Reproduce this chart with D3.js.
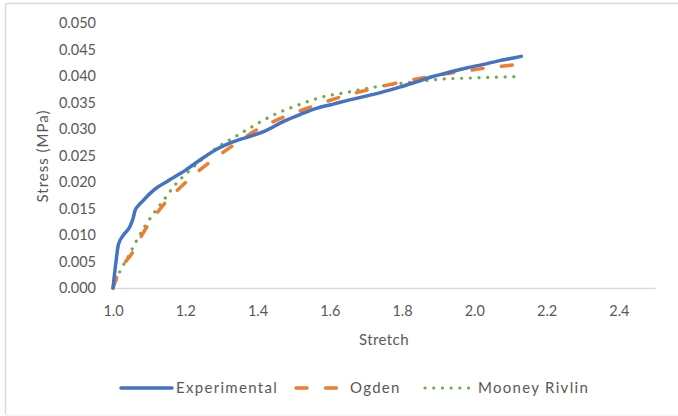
<!DOCTYPE html>
<html>
<head>
	<meta charset="utf-8">
	<title>Stress vs Stretch</title>
	<script src="https://d3js.org/d3.v7.min.js"></script>
	<style>
		body { margin: 0; background: #fff; }
		text { font-family: Lato, 'Open Sans', sans-serif; fill: #595959; }
	</style>
</head>
<body>
<script>
	// stretch / stress (MPa)
	var expStretch = [1.0, 1.008, 1.015, 1.03, 1.047, 1.055, 1.061, 1.075, 1.089, 1.105, 1.125, 1.15, 1.171, 1.2, 1.227, 1.255, 1.282, 1.315, 1.346, 1.38, 1.42, 1.471, 1.52, 1.563, 1.61, 1.655, 1.7, 1.747, 1.793, 1.84, 1.886, 1.93, 1.978, 2.025, 2.07, 2.1, 2.13];
	var expStress  = [0.0, 0.0048, 0.0082, 0.0101, 0.0116, 0.0130, 0.0146, 0.0159, 0.0169, 0.0180, 0.0191, 0.0201, 0.0210, 0.0222, 0.0235, 0.0248, 0.0260, 0.0271, 0.0279, 0.0286, 0.0296, 0.0314, 0.0328, 0.0339, 0.0347, 0.0355, 0.0362, 0.0370, 0.0379, 0.0389, 0.0399, 0.0407, 0.0415, 0.0422, 0.0429, 0.0433, 0.0437];

	var ogdStretch = [1.0, 1.015, 1.052, 1.088, 1.135, 1.199, 1.263, 1.328, 1.397, 1.471, 1.554, 1.628, 1.711, 1.793, 1.876, 1.959, 2.042, 2.116, 2.13];
	var ogdStress  = [0.0, 0.0028, 0.0065, 0.0109, 0.0153, 0.0198, 0.0235, 0.0267, 0.0298, 0.0322, 0.0343, 0.0360, 0.0375, 0.0388, 0.0399, 0.0408, 0.0416, 0.0422, 0.0424];

	var mrStretch = [1.0, 1.019, 1.042, 1.065, 1.088, 1.116, 1.144, 1.171, 1.208, 1.245, 1.282, 1.337, 1.379, 1.443, 1.508, 1.577, 1.646, 1.715, 1.784, 1.85, 1.904, 1.978, 2.07, 2.13];
	var mrStress  = [0.0, 0.0031, 0.0059, 0.0089, 0.0116, 0.0144, 0.0169, 0.0194, 0.0219, 0.0242, 0.0262, 0.0285, 0.0302, 0.0326, 0.0344, 0.0360, 0.0369, 0.0378, 0.0385, 0.0390, 0.0394, 0.0396, 0.0398, 0.0399];

	var xTicks = [1.0, 1.2, 1.4, 1.6, 1.8, 2.0, 2.2, 2.4];
	var yTicks = [0, 0.005, 0.01, 0.015, 0.02, 0.025, 0.03, 0.035, 0.04, 0.045, 0.05];

	var seriesNames = ["Experimental", "Ogden", "Mooney Rivlin"];
	var colors = ["#4472C4", "#ED7D31", "#70AD47"];

	var W = 678, H = 416;
	var margin = {top: 23, right: 23, bottom: 128, left: 113};

	var svg = d3.select("body").append("svg")
		.attr("width", W)
		.attr("height", H);

	// chart frame (only top/left/bottom edges show)
	svg.append("line").attr("x1", 5.5).attr("x2", W).attr("y1", 3.5).attr("y2", 3.5)
		.attr("stroke", "#d9d9d9").attr("stroke-width", 1.5);
	svg.append("line").attr("x1", 5.5).attr("x2", 5.5).attr("y1", 3.5).attr("y2", 415)
		.attr("stroke", "#d9d9d9").attr("stroke-width", 1.5);
	svg.append("line").attr("x1", 5.5).attr("x2", W).attr("y1", 415).attr("y2", 415)
		.attr("stroke", "#f0f0f0").attr("stroke-width", 1);

	var x = d3.scaleLinear().domain([1.0, 2.5]).range([margin.left, W - margin.right]);
	var y = d3.scaleLinear().domain([0, 0.05]).range([H - margin.bottom, margin.top]);

	// x axis
	var xAxis = svg.append("g")
		.attr("transform", "translate(0," + y(0) + ")")
		.call(d3.axisBottom(x).tickValues(xTicks).tickSize(0).tickPadding(18).tickFormat(d3.format(".1f")));
	xAxis.select(".domain").attr("stroke", "#d9d9d9").attr("stroke-width", 1.3);
	xAxis.selectAll("text").style("font-size", "14.5px").attr("fill", "#595959").attr("font-family", null);

	// y axis
	var yAxis = svg.append("g")
		.attr("transform", "translate(" + margin.left + ",0)")
		.call(d3.axisLeft(y).tickValues(yTicks).tickSize(0).tickPadding(17).tickFormat(d3.format(".3f")));
	yAxis.select(".domain").remove();
	yAxis.selectAll("text").style("font-size", "14.5px").attr("fill", "#595959").attr("font-family", null);

	// axis titles
	svg.append("text")
		.attr("x", (x.range()[0] + x.range()[1]) / 2)
		.attr("y", 345)
		.attr("text-anchor", "middle")
		.style("font-size", "15px")
		.style("letter-spacing", "0.4px")
		.text("Stretch");

	svg.append("text")
		.attr("transform", "translate(48,156) rotate(-90)")
		.attr("text-anchor", "middle")
		.style("font-size", "15px")
		.style("letter-spacing", "1px")
		.text("Stress (MPa)");

	var line = d3.line()
		.x(function(d) { return x(d[0]); })
		.y(function(d) { return y(d[1]); })
		.curve(d3.curveMonotoneX);

	var datasets = [
		d3.zip(expStretch, expStress),
		d3.zip(ogdStretch, ogdStress),
		d3.zip(mrStretch, mrStress)
	];
	var dashes = [null, "11 18.5", "0.1 8.6"];
	var widths = [3.5, 3.5, 3.2];

	// draw Mooney Rivlin first, experimental on top
	[2, 1, 0].forEach(function(i) {
		svg.append("path")
			.datum(datasets[i])
			.attr("fill", "none")
			.attr("stroke", colors[i])
			.attr("stroke-width", widths[i])
			.attr("stroke-linecap", "round")
			.attr("stroke-linejoin", "round")
			.attr("stroke-dasharray", dashes[i])
			.attr("d", line);
	});

	// legend
	var legendY = 388;
	var legendX = [121, 296, 425];
	var legendLen = [51, 46, 45];
	var legendTextX = [176, 350, 478];
	seriesNames.forEach(function(name, i) {
		svg.append("line")
			.attr("x1", legendX[i]).attr("x2", legendX[i] + legendLen[i])
			.attr("y1", legendY).attr("y2", legendY)
			.attr("stroke", colors[i])
			.attr("stroke-width", widths[i])
			.attr("stroke-linecap", "round")
			.attr("stroke-dasharray", dashes[i]);
		svg.append("text")
			.attr("x", legendTextX[i])
			.attr("y", legendY + 5)
			.style("font-size", "15px")
			.style("letter-spacing", "1.3px")
			.text(name);
	});
</script>
</body>
</html>
